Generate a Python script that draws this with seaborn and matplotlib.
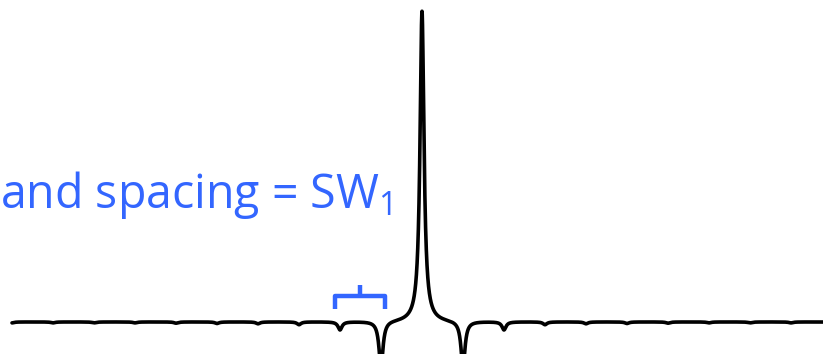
import numpy as np
import pandas as pd
import seaborn as sns
import matplotlib.pyplot as plt

# peak data (x in units of sideband spacing, y relative to centre peak)
peak_pos = [0.0]
peak_height = [1.0]
sb_order = [-10, -9, -8, -7, -6, -5, -4, -3, -2, -1, 1, 2, 3, 4, 5, 6, 7, 8, 9, 10]
sb_depth = [0.003, 0.003, 0.003, 0.003, 0.004, 0.005, 0.006, 0.009, 0.026, 0.15,
            0.15, 0.026, 0.009, 0.006, 0.005, 0.004, 0.003, 0.003, 0.003, 0.003]
gamma = 0.058

# bracket marking one sideband spacing
bracket_from = -2
bracket_to = -1
label = "and spacing = SW$_1$"
blue = "#3366FF"

sns.set_style("white")
plt.rcParams["font.family"] = ["Open Sans", "DejaVu Sans"]
plt.rcParams["mathtext.fontset"] = "custom"
plt.rcParams["mathtext.rm"] = "Open Sans"
plt.rcParams["mathtext.default"] = "regular"

x = np.linspace(-10, 10, 16001)


def lorentz(x, x0, g):
    return g**2 / ((x - x0)**2 + g**2)


y = np.zeros_like(x)
for p, h in zip(peak_pos, peak_height):
    y += h * lorentz(x, p, gamma)
for k, d in zip(sb_order, sb_depth):
    y -= d * lorentz(x, k, gamma)

df = pd.DataFrame({"freq": x, "intensity": y})

fig = plt.figure(figsize=(8.23, 3.54), dpi=100)
ax = fig.add_axes([0, 0, 1, 1])
sns.lineplot(data=df, x="freq", y="intensity", color="black", linewidth=2.6, ax=ax)

# bracket
bl = bracket_from - 0.12
br = bracket_to + 0.1
bc = (bl + br) / 2
ax.plot([bl, bl, br, br], [0.042, 0.083, 0.083, 0.042], color=blue, lw=3.2,
        solid_joinstyle="round", solid_capstyle="butt")
ax.plot([bc, bc], [0.083, 0.12], color=blue, lw=3.2, solid_capstyle="butt")

fig.text(0.0, 0.412, label, color=blue, fontsize=33.5, ha="left", va="baseline")

ax.set_xlim(-422 / 41, 401 / 41)
ax.set_ylim(-0.103, 1.035)
ax.axis("off")

fig.savefig("out.png", dpi=100)
